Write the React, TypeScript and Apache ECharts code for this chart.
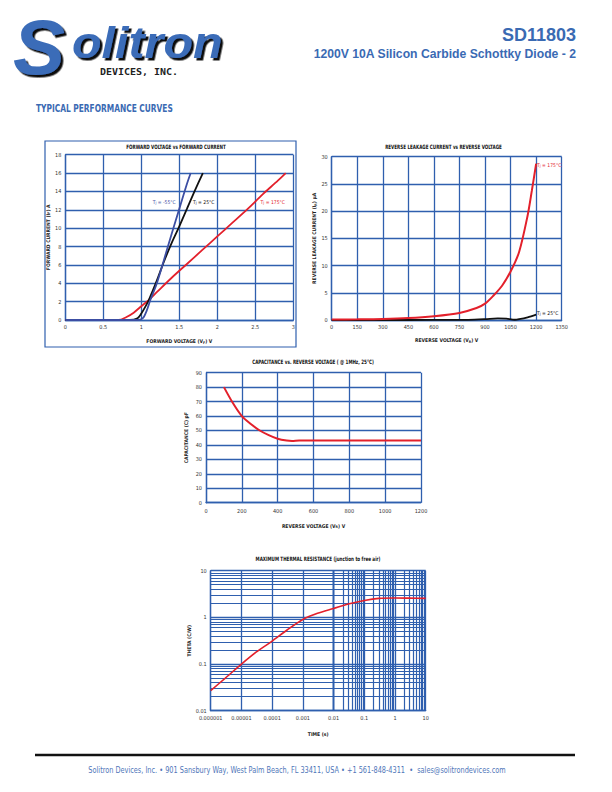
import React, { useEffect, useRef } from 'react';
import * as echarts from 'echarts';

const FONT = "'DejaVu Sans Condensed', sans-serif";
const BLUE = '#2f5fae';
const RED = '#e3202b';
const DARKBLUE = '#3c4ea3';
const TXT_BLUE = '#3a6ab3';

// Chart 1: forward voltage vs forward current
const fwdV_m55 = [0, 0.95, 1.02, 1.07, 1.12, 1.2, 1.3, 1.4, 1.5, 1.6, 1.65];
const fwdI_m55 = [0, 0, 0.2, 1.0, 2.2, 3.9, 6.6, 9.4, 12.1, 14.8, 16];
const fwdV_25 = [0, 0.85, 0.95, 1.0, 1.05, 1.1, 1.2, 1.3, 1.4, 1.5, 1.6, 1.7, 1.81];
const fwdI_25 = [0, 0, 0.2, 0.7, 1.4, 2.2, 4.2, 6.4, 8.4, 10.2, 12.1, 14.0, 16];
const fwdV_175 = [0, 0.7, 0.8, 0.9, 1.0, 1.1, 1.2, 1.4, 1.6, 1.8, 2.0, 2.2, 2.4, 2.6, 2.8, 2.9];
const fwdI_175 = [0, 0, 0.3, 0.8, 1.5, 2.2, 3.0, 4.6, 6.1, 7.6, 9.1, 10.6, 12.1, 13.7, 15.2, 16];

// Chart 2: reverse leakage current vs reverse voltage
const revV_175 = [0, 150, 300, 450, 600, 750, 850, 900, 950, 1000, 1050, 1100, 1150, 1175, 1200];
const revI_175 = [0.1, 0.12, 0.18, 0.35, 0.7, 1.3, 2.2, 3.0, 4.5, 6.3, 8.9, 12.5, 19.2, 23.8, 28.7];
const revV_25 = [0, 300, 600, 800, 900, 975, 1025, 1075, 1100, 1150, 1200];
const revI_25 = [0, 0, 0.01, 0.03, 0.15, 0.3, 0.25, 0.05, 0.15, 0.5, 1.0];

// Chart 3: capacitance vs reverse voltage
const capV = [100, 150, 200, 250, 300, 350, 400, 450, 480, 520, 600, 800, 1000, 1200];
const capC = [80, 69, 60, 54.5, 50, 46.8, 44.3, 43, 42.7, 43, 43, 43, 43, 43];

// Chart 4: maximum thermal resistance
const thT = [1e-6, 3e-6, 1e-5, 3e-5, 1e-4, 3e-4, 1e-3, 3e-3, 1e-2, 3e-2, 1e-1, 3e-1, 1, 3, 10];
const thR = [0.027, 0.05, 0.1, 0.18, 0.31, 0.53, 0.9, 1.22, 1.55, 1.93, 2.3, 2.55, 2.6, 2.58, 2.55];
const thXLabels = ['0.000001', '0.00001', '0.0001', '0.001', '0.01', '0.1', '1', '10'];
const thYLabels = ['0.01', '0.1', '1', '10'];
const thXDecades = [1e-6, 1e-5, 1e-4, 1e-3, 1e-2, 1e-1, 1];
const thYDecades = [0.01, 0.1, 1];
const minorMult = [2, 3, 4, 5, 6, 7, 8, 9];

const zip = (a: number[], b: number[]) => a.map((v, i) => [v, b[i]]);

const rich = {
  a: { fontSize: 5, fontWeight: 'bold', fontFamily: FONT, color: '#222' },
  s: { fontSize: 3.5, fontWeight: 'bold', fontFamily: FONT, color: '#222', padding: [2.5, 0, 0, 0] },
};
const richC = (color: string) => ({
  a: { fontSize: 5, fontFamily: FONT, color },
  s: { fontSize: 3.5, fontFamily: FONT, color, padding: [2.5, 0, 0, 0] },
});

const tickLabel = { fontSize: 5.5, color: '#333', fontFamily: FONT, margin: 4 };

const axisBase = (gridIndex: number) => ({
  gridIndex,
  axisLine: { show: true, lineStyle: { color: BLUE, width: 1.3 } },
  axisTick: { show: false },
  splitLine: { show: true, lineStyle: { color: BLUE, width: 1.3 } },
  axisLabel: { ...tickLabel, formatter: (v: number) => String(v) },
  nameLocation: 'middle' as const,
  nameTextStyle: { rich },
});

const tjLabel = (coord: number[], temp: string, color: string) => ({
  symbol: 'circle',
  symbolSize: 0,
  silent: true,
  data: [{ coord }],
  label: {
    show: true,
    position: 'right',
    distance: 0,
    formatter: `{a|T}{s|J}{a| = ${temp}°C}`,
    rich: richC(color),
  },
});

export default function App() {
  const ref = useRef<HTMLDivElement>(null);
  useEffect(() => {
    if (!ref.current) return;
    const chart = echarts.init(ref.current, undefined, { renderer: 'svg' });

    const xMinor: any[] = [];
    thXDecades.forEach((d) => minorMult.forEach((m) => xMinor.push({ xAxis: m * d })));
    const yMinor: any[] = [];
    thYDecades.forEach((d) => minorMult.forEach((m) => yMinor.push({ yAxis: m * d })));

    const text = (t: string, x: number, y: number, font: string, fill: string, align = 'center', extra: any = {}, styleExtra: any = {}) => ({
      type: 'text',
      x,
      y,
      style: { text: t, font, fill, textAlign: align, textVerticalAlign: 'middle', ...styleExtra },
      ...extra,
    });

    const chartTitleFont = `bold 6px ${FONT}`;
    const tsx = { scaleX: 0.76 };
    const logoShadow = { textShadowColor: '#111', textShadowOffsetX: 2.5, textShadowOffsetY: 2.5, textShadowBlur: 0.5 };

    chart.setOption({
      animation: false,
      backgroundColor: '#fff',
      grid: [
        { left: 65.3, top: 154.7, width: 228, height: 165.3 },
        { left: 331.7, top: 156.7, width: 230, height: 163.3 },
        { left: 206, top: 372.7, width: 215, height: 130 },
        { left: 210.7, top: 570.7, width: 215, height: 140 },
      ],
      xAxis: [
        { ...axisBase(0), type: 'value', min: 0, max: 3, interval: 0.5, name: '{a|FORWARD VOLTAGE (V}{s|F}{a|) V}', nameGap: 18 },
        { ...axisBase(1), type: 'value', min: 0, max: 1350, interval: 150, name: '{a|REVERSE VOLTAGE (V}{s|R}{a|) V}', nameGap: 17 },
        { ...axisBase(2), type: 'value', min: 0, max: 1200, interval: 200, name: '{a|REVERSE VOLTAGE (V}{s|R}{a|) V}', nameGap: 20, axisLabel: { ...tickLabel, margin: 5, formatter: (v: number) => String(v) } },
        {
          ...axisBase(3), type: 'log', logBase: 10, min: 1e-6, max: 10, name: '{a|TIME (s)}', nameGap: 21,
          axisLabel: { ...tickLabel, formatter: (v: number) => thXLabels[Math.round(Math.log10(v)) + 6] },
        },
      ],
      yAxis: [
        { ...axisBase(0), type: 'value', min: 0, max: 18, interval: 2, name: '{a|FORWARD CURRENT (I}{s|F}{a|) A}', nameGap: 14 },
        { ...axisBase(1), type: 'value', min: 0, max: 30, interval: 5, name: '{a|REVERSE LEAKAGE CURRENT (I}{s|R}{a|) µA}', nameGap: 14 },
        { ...axisBase(2), type: 'value', min: 0, max: 90, interval: 10, name: '{a|CAPACITANCE (C) pF}', nameGap: 18 },
        {
          ...axisBase(3), type: 'log', logBase: 10, min: 0.01, max: 10, name: '{a|THETA (C/W)}', nameGap: 18,
          axisLabel: { ...tickLabel, formatter: (v: number) => thYLabels[Math.round(Math.log10(v)) + 2] },
        },
      ],
      series: [
        { type: 'line', xAxisIndex: 0, yAxisIndex: 0, data: zip(fwdV_175, fwdI_175), smooth: 0.3, symbol: 'none', lineStyle: { color: RED, width: 1.8 }, markPoint: tjLabel([2.57, 12.9], '175', RED) },
        { type: 'line', xAxisIndex: 0, yAxisIndex: 0, data: zip(fwdV_25, fwdI_25), smooth: 0.3, symbol: 'none', lineStyle: { color: '#111', width: 1.8 }, markPoint: tjLabel([1.68, 12.9], '25', '#111') },
        { type: 'line', xAxisIndex: 0, yAxisIndex: 0, data: zip(fwdV_m55, fwdI_m55), smooth: 0.3, symbol: 'none', lineStyle: { color: DARKBLUE, width: 1.8 }, markPoint: tjLabel([1.15, 12.9], '-55', DARKBLUE) },
        { type: 'line', xAxisIndex: 1, yAxisIndex: 1, data: zip(revV_25, revI_25), smooth: 0.3, symbol: 'none', lineStyle: { color: '#111', width: 1.8 }, markPoint: tjLabel([1205, 1.3], '25', '#111') },
        { type: 'line', xAxisIndex: 1, yAxisIndex: 1, data: zip(revV_175, revI_175), smooth: 0.3, symbol: 'none', lineStyle: { color: RED, width: 2 }, markPoint: tjLabel([1205, 28.5], '175', RED) },
        { type: 'line', xAxisIndex: 2, yAxisIndex: 2, data: zip(capV, capC), smooth: 0.3, symbol: 'none', lineStyle: { color: RED, width: 2 } },
        {
          type: 'line', xAxisIndex: 3, yAxisIndex: 3, data: zip(thT, thR), smooth: 0.3, symbol: 'none', lineStyle: { color: RED, width: 1.6 }, z: 5,
          markLine: { silent: true, symbol: 'none', label: { show: false }, lineStyle: { color: BLUE, width: 1.2, type: 'solid' }, data: [...xMinor, ...yMinor], z: 1 },
        },
      ],
      graphic: [
        { type: 'rect', shape: { x: 45, y: 141, width: 251, height: 206 }, style: { fill: 'none', stroke: BLUE, lineWidth: 1.2 } },
        text('FORWARD VOLTAGE vs FORWARD CURRENT', 176, 146.5, chartTitleFont, '#111', 'center', tsx),
        text('REVERSE LEAKAGE CURRENT vs REVERSE VOLTAGE', 443.5, 147, chartTitleFont, '#111', 'center', tsx),
        text('CAPACITANCE vs. REVERSE VOLTAGE ( @ 1MHz, 25°C)', 313, 362, chartTitleFont, '#111', 'center', tsx),
        text('MAXIMUM THERMAL RESISTANCE (junction to free air)', 318, 559, chartTitleFont, '#111', 'center', tsx),
        // logo
        text('S', 13, 47, 'italic bold 78px "Liberation Sans"', '#3b6cb8', 'left', {}, logoShadow),
        text('olitron', 72, 43, 'italic bold 44px "Liberation Sans"', '#3b6cb8', 'left', { scaleX: 1.1 }, logoShadow),
        text('DEVICES, INC.', 100, 71.5, 'bold 9.5px "DejaVu Sans Mono"', '#222', 'left', { scaleX: 1.05 }),
        // header titles
        text('SD11803', 576, 35, 'bold 18px "Liberation Sans"', TXT_BLUE, 'right'),
        text('1200V 10A Silicon Carbide Schottky Diode - 2', 576, 54, 'bold 12.2px "Liberation Sans"', TXT_BLUE, 'right'),
        text('TYPICAL PERFORMANCE CURVES', 36, 108, `bold 10px ${FONT}`, TXT_BLUE, 'left', { scaleX: 0.83 }),
        // footer
        { type: 'line', shape: { x1: 35, y1: 755, x2: 575, y2: 755 }, style: { stroke: '#111', lineWidth: 2.5 } },
        text('Solitron Devices, Inc. • 901 Sansbury Way, West Palm Beach, FL 33411, USA • +1 561-848-4311  •  sales@solitrondevices.com', 297, 770, `9px ${FONT}`, '#4f76b9', 'center', { scaleX: 0.81 }),
      ],
    });
    return () => chart.dispose();
  }, []);
  return <div ref={ref} style={{ position: 'absolute', left: 0, top: 0, width: 612, height: 792 }} />;
}
